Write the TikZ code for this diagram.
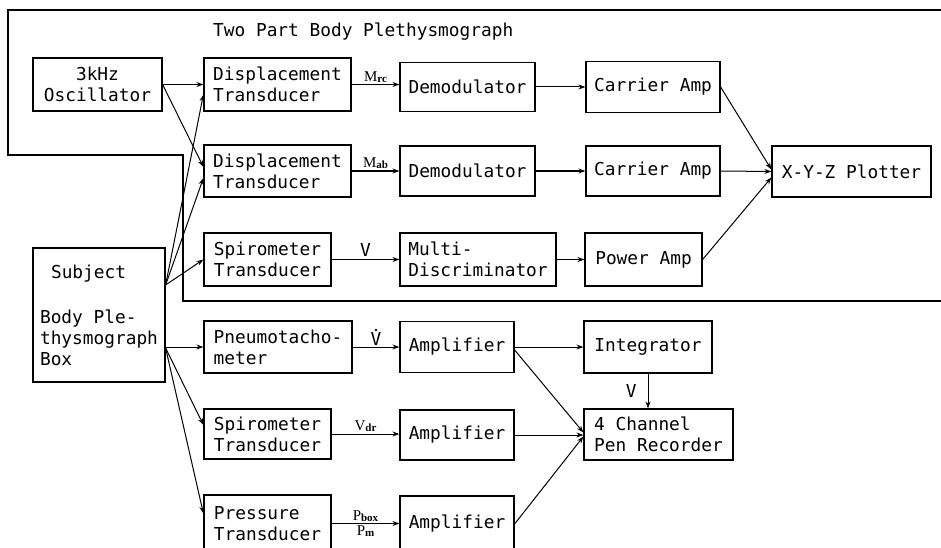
\documentclass[tikz,border=0pt]{standalone}
\usepackage{fontspec}
\setmainfont{DejaVu Sans Mono}
\newfontfamily\labfont{Liberation Serif}
\usetikzlibrary{arrows.meta,calc}
\begin{document}
\begin{tikzpicture}[x=1pt,y=1pt,
  font=\fontsize{17.8}{21}\selectfont,
  box/.style={draw,line width=1.2pt,inner sep=0pt,align=left},
  arr/.style={line width=1pt,-{Stealth[length=7pt,width=5pt]}},
  lbl/.style={inner sep=1pt},
  sublbl/.style={inner sep=1.5pt,font=\labfont\fontsize{15}{15}\selectfont}]
\useasboundingbox (0,0) rectangle (941,-548);
\fill[white] (0,0) rectangle (941,-548);
% enclosing outline
\draw[line width=1.2pt] (950,-10) -- (8,-10) -- (8,-155) -- (183,-155) -- (183,-301) -- (950,-301);
\node[anchor=base west,inner sep=0pt] (title) at (213,-37) {Two Part Body Plethysmograph};
% boxes
\node[box,minimum width=129,minimum height=53,align=center] (osc) at (97.5,-84.5) {3kHz\\Oscillator};
\node[box,minimum width=147,minimum height=53] (dt1) at (277.5,-84.5) {Displacement\\Transducer};
\node[box,minimum width=135,minimum height=49] (dem1) at (467.5,-87) {Demodulator};
\node[box,minimum width=134,minimum height=51] (ca1) at (653,-87) {Carrier Amp};
\node[box,minimum width=147,minimum height=52] (dt2) at (277.5,-171) {Displacement\\Transducer};
\node[box,minimum width=135,minimum height=50] (dem2) at (467.5,-171) {Demodulator};
\node[box,minimum width=134,minimum height=50] (ca2) at (653,-171) {Carrier Amp};
\node[box,minimum width=159,minimum height=51] (plot) at (851.5,-171.5) {X-Y-Z Plotter};
\node[box,minimum width=127,minimum height=53] (st1) at (267.5,-259.5) {Spirometer\\Transducer};
\node[box,minimum width=156,minimum height=53] (multi) at (478,-259.5) {Multi-\\Discriminator};
\node[box,minimum width=117,minimum height=53] (pamp) at (643.5,-259.5) {Power Amp};
\node[box,minimum width=132,minimum height=134] (subj) at (99,-315) {\hspace*{11pt}Subject\\[24pt]Body Ple-\\thysmograph\\Box};
\node[box,minimum width=148,minimum height=52] (pneu) at (278,-347) {Pneumotacho-\\meter};
\node[box,minimum width=114,minimum height=51] (amp1) at (457,-347) {Amplifier};
\node[box,minimum width=128,minimum height=52] (integ) at (648,-347) {Integrator};
\node[box,minimum width=127,minimum height=50] (st2) at (267.5,-434) {Spirometer\\Transducer};
\node[box,minimum width=114,minimum height=50] (amp2) at (457,-435) {Amplifier};
\node[box,minimum width=149,minimum height=51] (pen) at (658.5,-434.5) {4 Channel\\Pen Recorder};
\node[box,minimum width=127,minimum height=57] (press) at (267.5,-523.5) {Pressure\\Transducer};
\node[box,minimum width=114,minimum height=56] (amp3) at (457,-524) {Amplifier};
% oscillator connectors
\draw[arr] (osc.east) -- (dt1.west);
\draw[arr] (osc.east) -- ($(dt2.west)+(0,4)$);
% subject connectors
\coordinate (sjA) at ($(subj.east)+(0,30)$);
\coordinate (sjB) at ($(subj.east)+(0,-33)$);
\draw[arr] (sjA) -- ($(dt1.west)+(0,-10)$);
\draw[arr] (sjA) -- ($(dt2.west)+(0,-7)$);
\draw[arr] (sjA) -- (st1.west);
\draw[arr] (pneu.west -| subj.east) -- (pneu.west);
\draw[arr] (sjB) -- ($(st2.west)+(0,9)$);
\draw[arr] (sjB) -- ($(press.west)+(0,10)$);
% upper chain
\draw[arr] (dt1.east) -- (dt1.east -| dem1.west) node[midway,above,sublbl] (lmrc) {M\raisebox{-1pt}{\fontsize{11}{11}\selectfont\bfseries rc}};
\draw[arr] (dem1.east) -- (dem1.east -| ca1.west);
\draw[arr] (ca1.east) -- ($(plot.west)+(0,2)$);
\draw[arr] (dt2.east) -- (dt2.east -| dem2.west) node[midway,above,sublbl] (lmab) {M\raisebox{-1pt}{\fontsize{11}{11}\selectfont\bfseries ab}};
\draw[arr] (dem2.east) -- (ca2.west);
\draw[arr] (ca2.east) -- (plot.west);
\draw[arr] (st1.east) -- (multi.west) node[midway,above=2pt,lbl] (lv1) {V};
\draw[arr] (multi.east) -- (pamp.west);
\draw[arr] (pamp.east) -- ($(plot.west)+(0,-6)$);
% lower chain
\draw[arr] (pneu.east) -- (amp1.west) node[midway,above,lbl] (lvdot) {V};
\fill ($(lvdot.north)+(0,1)$) circle[radius=1.3pt];
\draw[arr] (amp1.east) -- (integ.west);
\draw[arr] ($(amp1.east)+(0,-3)$) -- ($(pen.west)+(0,2)$);
\draw[arr] (integ.south) -- (integ.south |- pen.north) node[midway,left=10pt,lbl] (lv2) {V};
\draw[arr] (st2.east) -- (st2.east -| amp2.west) node[midway,above,sublbl] (lvdr) {V\raisebox{-1pt}{\fontsize{11}{11}\selectfont\bfseries dr}};
\draw[arr] (amp2.east) -- (amp2.east -| pen.west);
\draw[arr] (amp3.east) -- ($(pen.west)+(0,-2)$);
\draw[arr] (press.east) -- (press.east -| amp3.west) node[midway,above,sublbl] (lpbox) {P\raisebox{-1pt}{\fontsize{11}{11}\selectfont\bfseries box}} node[midway,below,sublbl] (lpm) {P\raisebox{-1pt}{\fontsize{11}{11}\selectfont\bfseries m}};
\end{tikzpicture}
\end{document}
